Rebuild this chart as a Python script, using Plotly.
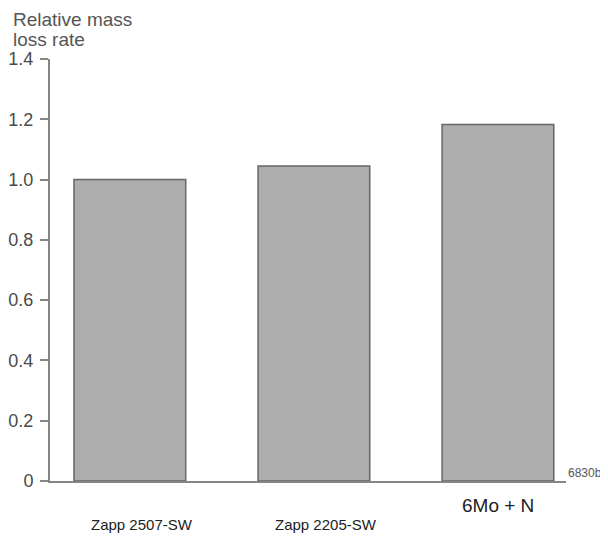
import plotly.graph_objects as go

categories = ["Zapp 2507-SW", "Zapp 2205-SW", "6Mo + N"]
values = [1.0, 1.045, 1.183]
y_ticks = [0, 0.2, 0.4, 0.6, 0.8, 1.0, 1.2, 1.4]
y_tick_labels = ["0", "0.2", "0.4", "0.6", "0.8", "1.0", "1.2", "1.4"]

xpos = list(range(len(categories)))

fig = go.Figure()
fig.add_trace(go.Bar(
    x=xpos, y=values, width=0.607,
    marker=dict(color="#adadad", line=dict(color="#666666", width=1.5)),
    hoverinfo="skip",
))

font = "Liberation Sans, Arial, sans-serif"
fig.update_layout(
    width=600, height=530,
    margin=dict(l=42, r=42, t=51, b=57, autoexpand=False),
    plot_bgcolor="white", paper_bgcolor="white",
    showlegend=False,
    font=dict(family=font, color="#4a4a4a", size=18),
    xaxis=dict(range=[-0.434, 2.37], showticklabels=False, ticks="",
               showgrid=False, zeroline=False, showline=True, automargin=False,
               linecolor="#858585", linewidth=2),
    yaxis=dict(range=[0, 1.4], tickvals=y_ticks, ticktext=y_tick_labels,
               ticks="outside", ticklen=8, tickcolor="#858585", tickwidth=1.5,
               ticklabelstandoff=3,
               showgrid=False, zeroline=False, showline=True, automargin=False,
               linecolor="#858585", linewidth=2,
               tickfont=dict(size=18, color="#4a4a4a")),
)

# axis title (two lines, top-left)
fig.add_annotation(xref="paper", yref="paper", x=-0.075, y=1.094,
                   xanchor="left", yanchor="middle", showarrow=False,
                   text="Relative mass",
                   font=dict(size=19, color="#555555", family=font))
fig.add_annotation(xref="paper", yref="paper", x=-0.075, y=1.047,
                   xanchor="left", yanchor="middle", showarrow=False,
                   text="loss rate",
                   font=dict(size=19, color="#555555", family=font))

# category labels (offset as in the original)
label_x = [0.068, 1.066, 2.0]
label_y = [-0.104, -0.104, -0.058]
label_size = [15, 15, 19]
for c, lx, ly, ls in zip(categories, label_x, label_y, label_size):
    fig.add_annotation(x=lx, y=ly, xref="x", yref="paper", text=c, showarrow=False,
                       font=dict(size=ls, color="#222222", family=font),
                       xanchor="center", yanchor="middle")

fig.add_annotation(xref="paper", yref="paper", x=1.0, y=0.018, xanchor="left",
                   yanchor="middle", showarrow=False, text="6830b",
                   font=dict(size=12, color="#555555", family=font))

fig.write_html("out.html")
